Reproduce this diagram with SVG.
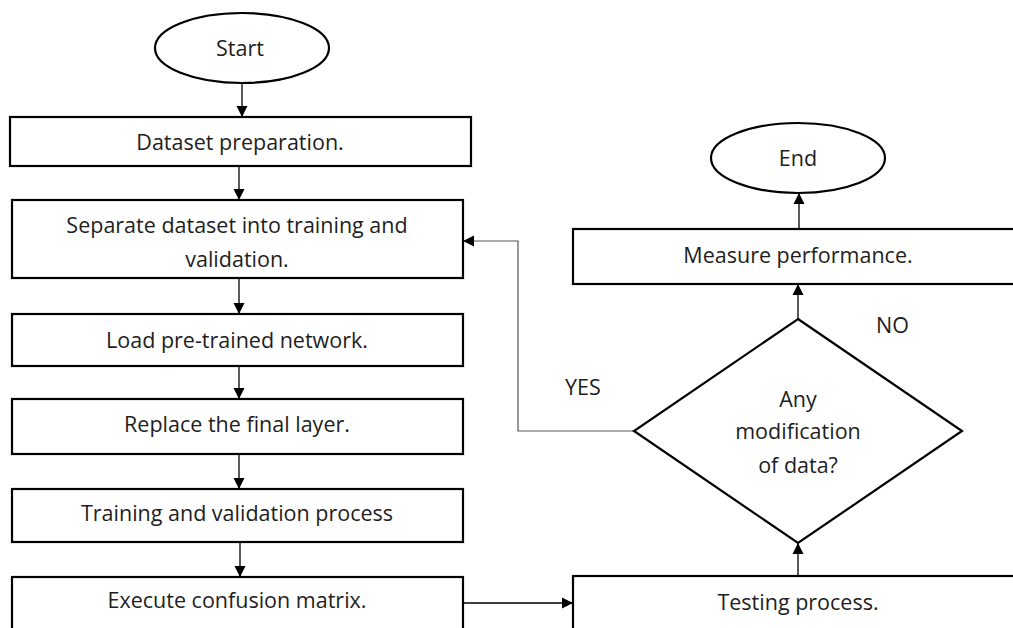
<svg xmlns="http://www.w3.org/2000/svg" width="1013" height="628" viewBox="0 0 1013 628">
<style>
.box{fill:#fff;stroke:#000;stroke-width:2.2}
.t{font-family:"Open Sans","Liberation Sans",sans-serif;font-size:21.5px;fill:#1e1e1e;text-anchor:middle}
.lbl{font-family:"Open Sans","Liberation Sans",sans-serif;font-size:21.5px;fill:#1e1e1e}
.c{fill:none;stroke:#000;stroke-width:1.3}
.loop{fill:none;stroke:#555;stroke-width:1.2}
</style>
<defs>
<marker id="ah" markerUnits="userSpaceOnUse" markerWidth="12" markerHeight="12" refX="11" refY="6" orient="auto">
<path d="M0,0.5 L11,6 L0,11.5 z" fill="#000"/>
</marker>
</defs>
<rect width="1013" height="628" fill="#fff"/>
<g id="connectors">
<line class="c" x1="242" y1="83" x2="242" y2="117" marker-end="url(#ah)"/>
<line class="c" x1="239" y1="166" x2="239" y2="200" marker-end="url(#ah)"/>
<line class="c" x1="239" y1="278" x2="239" y2="314" marker-end="url(#ah)"/>
<line class="c" x1="239" y1="366" x2="239" y2="399" marker-end="url(#ah)"/>
<line class="c" x1="239" y1="454" x2="239" y2="489" marker-end="url(#ah)"/>
<line class="c" x1="240" y1="542" x2="240" y2="577" marker-end="url(#ah)"/>
<line class="c" x1="463" y1="603" x2="573" y2="603" marker-end="url(#ah)"/>
<line class="c" x1="798" y1="576" x2="798" y2="543" marker-end="url(#ah)"/>
<line class="c" x1="798" y1="319" x2="798" y2="284" marker-end="url(#ah)"/>
<line class="c" x1="799" y1="229" x2="799" y2="193" marker-end="url(#ah)"/>
<polyline class="loop" points="634,431 518,431 518,241 463,241" marker-end="url(#ah)"/>
</g>
<g id="start">
<ellipse class="box" cx="242" cy="48" rx="87" ry="35"/>
<text class="t" x="240" y="56">Start</text>
</g>
<g id="dataset">
<rect class="box" x="10" y="117" width="461" height="49"/>
<text class="t" x="240" y="150">Dataset preparation.</text>
</g>
<g id="separate">
<rect class="box" x="12" y="200" width="451" height="78"/>
<text class="t" x="237" y="233">Separate dataset into training and</text>
<text class="t" x="237" y="267">validation.</text>
</g>
<g id="load">
<rect class="box" x="12" y="314" width="451" height="52"/>
<text class="t" x="237" y="348">Load pre-trained network.</text>
</g>
<g id="replace">
<rect class="box" x="12" y="399" width="451" height="55"/>
<text class="t" x="237" y="432">Replace the final layer.</text>
</g>
<g id="training">
<rect class="box" x="12" y="489" width="451" height="53"/>
<text class="t" x="237" y="521">Training and validation process</text>
</g>
<g id="execute">
<rect class="box" x="12" y="577" width="451" height="70"/>
<text class="t" x="237" y="608">Execute confusion matrix.</text>
</g>
<g id="testing">
<rect class="box" x="573" y="576" width="460" height="70"/>
<text class="t" x="798" y="610">Testing process.</text>
</g>
<g id="decision">
<polygon class="box" points="798,319 962,431 798,543 634,431"/>
<text class="t" x="798" y="407">Any</text>
<text class="t" x="798" y="439">modification</text>
<text class="t" x="798" y="473">of data?</text>
</g>
<g id="measure">
<rect class="box" x="573" y="229" width="460" height="55"/>
<text class="t" x="798" y="263">Measure performance.</text>
</g>
<g id="end">
<ellipse class="box" cx="798" cy="158" rx="87" ry="35"/>
<text class="t" x="798" y="166">End</text>
</g>
<g id="labels">
<text class="lbl" x="876" y="333">NO</text>
<text class="lbl" x="565" y="395">YES</text>
</g>
</svg>
